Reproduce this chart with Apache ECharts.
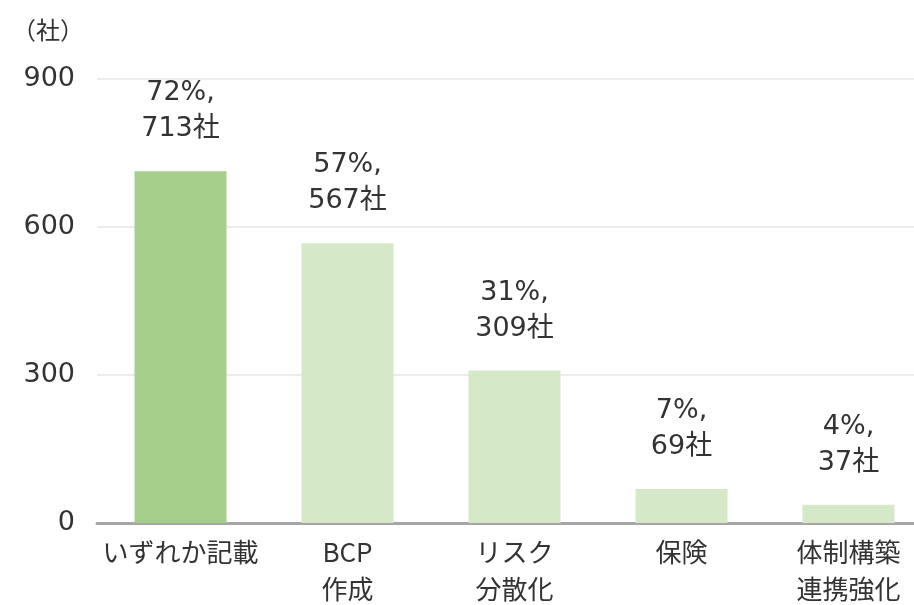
<!DOCTYPE html>
<html><head><meta charset="utf-8">
<script src="https://cdn.jsdelivr.net/npm/echarts@6/dist/echarts.min.js"></script>
<style>html,body{margin:0;padding:0;background:#fff}#c{width:914px;height:605px}</style>
</head><body><div id="c"></div>
<script>
const categories = ['いずれか記載', 'BCP\n作成', 'リスク\n分散化', '保険', '体制構築\n連携強化'];
const counts = [713, 567, 309, 69, 37];
const percents = [72, 57, 31, 7, 4];
const yTicks = [0, 300, 600, 900];
const colors = ['#a7cf8c', '#d5e8c8', '#d5e8c8', '#d5e8c8', '#d5e8c8'];
const font = '"Noto Sans CJK JP", "Noto Sans", sans-serif';
const numFont = '"DejaVu Sans", "Noto Sans CJK JP", sans-serif';

const chart = echarts.init(document.getElementById('c'));
chart.setOption({
  animation: false,
  textStyle: { fontFamily: font },
  graphic: [{ type: 'text', left: 12, top: 18, style: { text: '（社）', font: '24px ' + font, fill: '#333' } }],
  grid: { left: 97, top: 79, width: 835, height: 444, containLabel: false, outerBoundsMode: 'none' },
  xAxis: {
    type: 'category',
    data: categories,
    axisLine: { lineStyle: { color: '#a6a6a6', width: 3 } },
    axisTick: { show: false },
    axisLabel: { color: '#333', fontSize: 26, lineHeight: 37, margin: 11, interval: 0, fontFamily: font }
  },
  yAxis: {
    type: 'value',
    min: yTicks[0], max: yTicks[yTicks.length - 1], interval: 300,
    axisLine: { show: false }, axisTick: { show: false },
    splitLine: { lineStyle: { color: '#e6e6e6', width: 1.5 } },
    axisLabel: { color: '#333', fontSize: 27, margin: 22, fontFamily: numFont }
  },
  series: [{
    type: 'bar',
    barWidth: 92,
    data: counts.map((v, i) => ({ value: v, itemStyle: { color: colors[i] } })),
    label: {
      show: true, position: 'top', distance: 24,
      color: '#333', fontSize: 27, lineHeight: 36, fontFamily: numFont,
      formatter: p => percents[p.dataIndex] + '%,\n' + p.value + '社'
    }
  }]
});
</script></body></html>
